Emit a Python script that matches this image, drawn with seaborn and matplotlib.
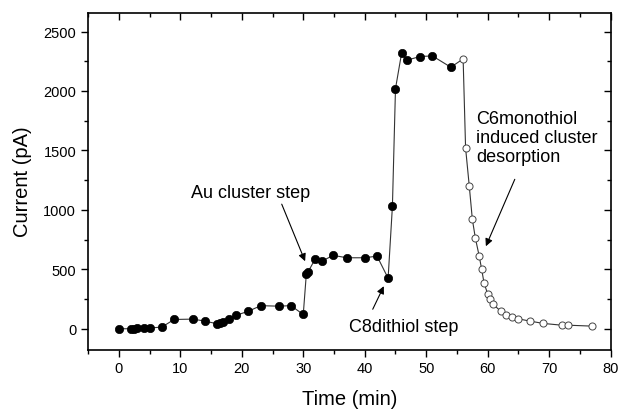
import matplotlib
matplotlib.use("Agg")
import matplotlib.pyplot as plt
import seaborn as sns
import pandas as pd
from matplotlib.ticker import MultipleLocator

# Filled points (adsorption phase)
t_filled = [0.0, 2.0, 2.4, 2.9, 4.1, 5.0, 7.0, 9.0, 12.1, 14.0, 16.0, 16.4, 16.9,
            17.9, 19.0, 21.0, 23.1, 26.0, 28.0, 30.0, 30.5, 30.8, 31.9, 33.0,
            34.9, 37.1, 40.0, 42.0, 43.8, 44.5, 45.0, 46.0, 46.9, 49.0, 51.0, 54.0]
i_filled = [0, 0, 0, 3, 6, 6, 14, 78, 81, 64, 42, 50, 59,
            84, 112, 146, 194, 190, 194, 120, 460, 480, 583, 569,
            617, 597, 597, 611, 425, 1030, 2020, 2320, 2260, 2290, 2295, 2200]
# Open points (desorption phase)
t_open = [56.0, 56.4, 57.0, 57.5, 58.0, 58.6, 59.0, 59.4, 60.0, 60.3, 60.9,
          62.1, 63.0, 63.9, 64.9, 66.9, 69.0, 72.0, 73.0, 77.0]
i_open = [2270, 1520, 1200, 920, 760, 615, 505, 385, 292, 248, 205,
          148, 118, 98, 84, 64, 45, 30, 30, 22]

x_ticks = [0, 10, 20, 30, 40, 50, 60, 70, 80]
y_ticks = [0, 500, 1000, 1500, 2000, 2500]

sns.set_style("ticks")
plt.rcParams['font.family'] = ['Liberation Sans', 'DejaVu Sans']
plt.rcParams['text.color'] = 'black'
plt.rcParams['axes.labelcolor'] = 'black'
plt.rcParams['xtick.color'] = 'black'
plt.rcParams['ytick.color'] = 'black'

fig, ax = plt.subplots(figsize=(6.2, 4.1), dpi=100)
fig.subplots_adjust(left=0.142, right=0.985, top=0.967, bottom=0.145)

all_df = pd.DataFrame({"t": t_filled + t_open, "i": i_filled + i_open})
sns.lineplot(data=all_df, x="t", y="i", sort=False, color="#333333", lw=0.8, ax=ax)

df_f = pd.DataFrame({"t": t_filled, "i": i_filled})
df_o = pd.DataFrame({"t": t_open, "i": i_open})
sns.scatterplot(data=df_f, x="t", y="i", color="black", s=36, edgecolor="black",
                linewidth=0.5, ax=ax, zorder=3)
sns.scatterplot(data=df_o, x="t", y="i", color="white", s=26, edgecolor="#444444",
                linewidth=0.7, ax=ax, zorder=3)

ax.set_xlim(-5, 80)
ax.set_ylim(-175, 2660)
ax.set_xticks(x_ticks)
ax.set_yticks(y_ticks)
ax.xaxis.set_minor_locator(MultipleLocator(5))
ax.yaxis.set_minor_locator(MultipleLocator(250))
ax.tick_params(which="major", direction="out", length=5, width=1, labelsize=10.5,
               colors="black")
ax.tick_params(which="minor", direction="out", length=3, width=1, colors="black")
ax.tick_params(which="both", top=True, right=True)
# top/right ticks point inward
for t in ax.xaxis.get_major_ticks() + ax.xaxis.get_minor_ticks():
    t.tick2line.set_marker(3)
for t in ax.yaxis.get_major_ticks() + ax.yaxis.get_minor_ticks():
    t.tick2line.set_marker(0)
for s in ax.spines.values():
    s.set_linewidth(1.2)
    s.set_color("black")

ax.set_xlabel("Time (min)", fontsize=14.5, labelpad=10, color="black")
ax.set_ylabel("Current (pA)", fontsize=14.5, labelpad=8, color="black")

ax.text(21.5, 1149, "Au cluster step", ha="center", va="center", fontsize=13,
        color="black")
ax.annotate("", xy=(30.3, 568), xytext=(26.5, 1048),
            arrowprops=dict(arrowstyle="-|>", color="black", lw=0.8, mutation_scale=11,
                            shrinkA=0, shrinkB=0))
ax.text(46.4, 21, "C8dithiol step", ha="center", va="center", fontsize=13,
        color="black")
ax.annotate("", xy=(43.1, 358), xytext=(41.3, 164),
            arrowprops=dict(arrowstyle="-|>", color="black", lw=0.8, mutation_scale=11,
                            shrinkA=0, shrinkB=0))
ax.text(58.1, 1611, "C6monothiol\ninduced cluster\ndesorption", ha="left", va="center",
        fontsize=13, linespacing=1.15, color="black")
ax.annotate("", xy=(59.7, 694), xytext=(64.4, 1257),
            arrowprops=dict(arrowstyle="-|>", color="black", lw=0.8, mutation_scale=11,
                            shrinkA=0, shrinkB=0))

fig.savefig("out.png", dpi=100)
